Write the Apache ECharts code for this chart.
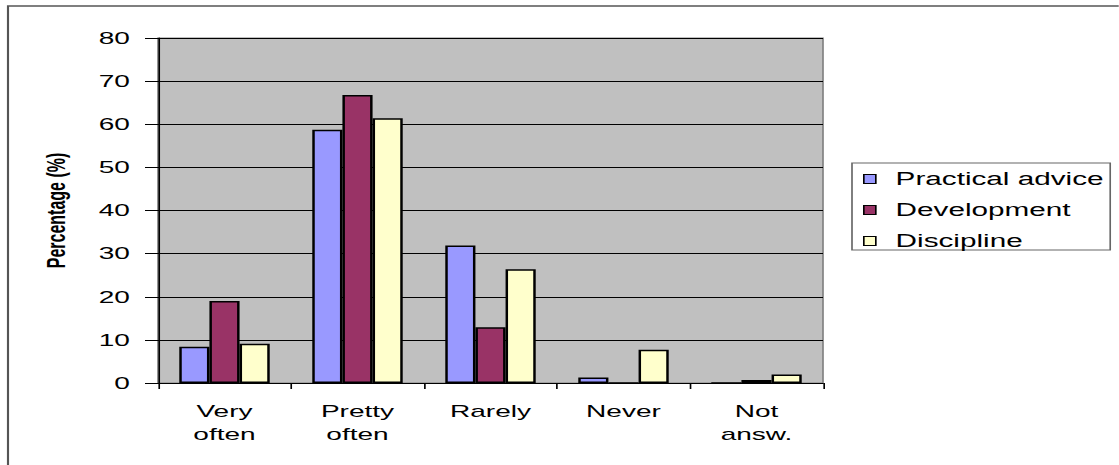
<!DOCTYPE html>
<html>
<head>
<meta charset="utf-8">
<script src="https://cdn.jsdelivr.net/npm/echarts@6/dist/echarts.min.js"></script>
<style>
  html, body { margin: 0; padding: 0; background: #fff; overflow: hidden; }
  /* the original chart is stretched sideways, so draw narrow and stretch */
  #chart { width: 678px; height: 465px; transform-origin: 0 0; transform: scaleX(1.65); }
</style>
</head>
<body>
<div id="chart"></div>
<script>
const categories = ['Very\noften', 'Pretty\noften', 'Rarely', 'Never', 'Not\nansw.']
const practicalAdvice = [8.4, 58.7, 31.9, 1.3, 0]
const development = [19.0, 66.8, 12.9, 0, 0.7]
const discipline = [9.1, 61.4, 26.4, 7.7, 2.0]
const seriesNames = ['Practical advice', 'Development', 'Discipline']

const SX = 1.65 // horizontal stretch
const font = 'Liberation Sans, Arial, sans-serif'

const chart = echarts.init(document.getElementById('chart'), null, { renderer: 'svg' })

const barStyle = color => ({ color: color, borderColor: '#000', borderWidth: 1.5 })

const option = {
  animation: false,
  color: ['#9999FF', '#993366', '#FFFFCC'],
  graphic: [{
    type: 'rect',
    shape: { x: 8 / SX, y: 6, width: 2000, height: 1000 },
    style: { fill: 'none', stroke: '#555', lineWidth: 1.3 },
    silent: true
  }],
  grid: {
    left: 158 / SX,
    top: 38,
    width: (823 - 158) / SX,
    height: 345,
    show: true,
    backgroundColor: '#C0C0C0',
    borderColor: '#808080',
    borderWidth: 1
  },
  legend: {
    data: seriesNames,
    orient: 'vertical',
    left: 852 / SX,
    top: 163,
    itemWidth: 12 / SX,
    itemHeight: 9,
    itemGap: 13,
    padding: [7, 4, 0, 11 / SX],
    borderColor: '#666',
    borderWidth: 1,
    icon: 'rect',
    itemStyle: { borderColor: '#000', borderWidth: 1 },
    textStyle: { fontFamily: font, fontSize: 18, color: '#000', padding: [0, 0, 0, 7] }
  },
  xAxis: {
    type: 'category',
    data: categories,
    axisLine: { lineStyle: { color: '#000', width: 1 } },
    axisTick: { show: true, length: 6, lineStyle: { color: '#000' } },
    axisLabel: { fontFamily: font, fontSize: 17, color: '#000', lineHeight: 23, margin: 17, interval: 0 }
  },
  yAxis: {
    type: 'value',
    min: 0,
    max: 80,
    interval: 10,
    name: 'Percentage (%)',
    nameLocation: 'middle',
    nameRotate: 90,
    nameGap: 54,
    nameTextStyle: { fontFamily: font, fontSize: 16, fontWeight: 'bold', color: '#000' },
    axisLine: { show: true, lineStyle: { color: '#000', width: 1 } },
    axisTick: { show: true, length: 13 / SX, lineStyle: { color: '#000' } },
    splitLine: { lineStyle: { color: '#000', width: 1 } },
    axisLabel: { fontFamily: font, fontSize: 17, color: '#000', margin: 17 }
  },
  series: [
    { name: seriesNames[0], type: 'bar', data: practicalAdvice, barGap: '0%', barCategoryGap: '32%', itemStyle: barStyle('#9999FF') },
    { name: seriesNames[1], type: 'bar', data: development, barGap: '0%', barCategoryGap: '32%', itemStyle: barStyle('#993366') },
    { name: seriesNames[2], type: 'bar', data: discipline, barGap: '0%', barCategoryGap: '32%', itemStyle: barStyle('#FFFFCC') }
  ]
}
chart.setOption(option)
</script>
</body>
</html>
